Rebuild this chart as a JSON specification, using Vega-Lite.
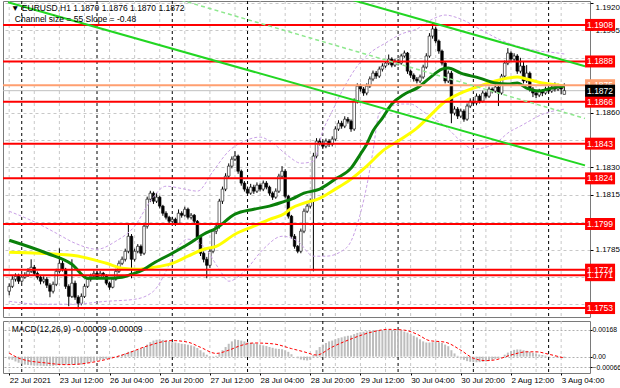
{
"$schema":"https://vega.github.io/schema/vega-lite/v6.json",
"padding":{"left":1,"top":0,"right":0,"bottom":0},
"background":"#ffffff",
"spacing":2,
"config":{"view":{"stroke":"#7a7a7a","strokeWidth":1},"axis":{"labelFont":"Liberation Sans","labelFontSize":8,"labelColor":"#000000","tickColor":"#000000","domain":false}},
"datasets":{
"vg":[{"i":0},{"i":8},{"i":16},{"i":24},{"i":32},{"i":40},{"i":48},{"i":56},{"i":64},{"i":72},{"i":80},{"i":88},{"i":96},{"i":104},{"i":112},{"i":120},{"i":128},{"i":136},{"i":144},{"i":152},{"i":160},{"i":168},{"i":176}],
"sep":[{"i":4},{"i":28},{"i":52},{"i":76},{"i":100},{"i":124},{"i":148},{"i":172}],
"lv":[{"p":1.1908,"t":"1.1908"},{"p":1.1888,"t":"1.1888"},{"p":1.1866,"t":"1.1866"},{"p":1.1843,"t":"1.1843"},{"p":1.1824,"t":"1.1824"},{"p":1.1799,"t":"1.1799"},{"p":1.1771,"t":"1.1771"},{"p":1.1774,"t":"1.1774"},{"p":1.1753,"t":"1.1753"}],
"orl":[{"p":1.1875,"t":"1.1875"}],
"bid":[{"p":1.1872,"t":"1.1872"}],
"ch":[{"i":-0.38,"p":1.19204,"k":"a"},{"i":183.6,"p":1.18311,"k":"a"},{"i":105.9,"p":1.19234,"k":"b"},{"i":183.6,"p":1.18854,"k":"b"}],
"chd":[{"i":52.6,"p":1.19227},{"i":183.6,"p":1.18568}],
"gma":[{"i":0,"p":1.17901},{"i":12,"p":1.17830},{"i":20,"p":1.17770},{"i":25,"p":1.17693},{"i":31,"p":1.17693},{"i":36,"p":1.17699},{"i":39,"p":1.17715},{"i":43,"p":1.17742},{"i":46,"p":1.17775},{"i":52,"p":1.17830},{"i":57,"p":1.17879},{"i":62,"p":1.17934},{"i":66,"p":1.17967},{"i":72,"p":1.18044},{"i":78,"p":1.18071},{"i":83,"p":1.18088},{"i":88,"p":1.18115},{"i":90,"p":1.18126},{"i":94,"p":1.18159},{"i":99,"p":1.18181},{"i":104,"p":1.18236},{"i":109,"p":1.18296},{"i":112,"p":1.18373},{"i":114,"p":1.18427},{"i":116,"p":1.18499},{"i":119,"p":1.18570},{"i":122,"p":1.18647},{"i":126,"p":1.18701},{"i":130,"p":1.18734},{"i":134,"p":1.18789},{"i":138,"p":1.18838},{"i":140,"p":1.18844},{"i":144,"p":1.18816},{"i":150,"p":1.18789},{"i":155,"p":1.18762},{"i":159,"p":1.18756},{"i":162,"p":1.18762},{"i":165,"p":1.18734},{"i":169,"p":1.18718},{"i":173,"p":1.18734},{"i":177,"p":1.18745}],
"yma":[{"i":0,"p":1.17836},{"i":20,"p":1.17819},{"i":31,"p":1.17775},{"i":36,"p":1.17748},{"i":41,"p":1.17742},{"i":46,"p":1.17753},{"i":52,"p":1.17775},{"i":57,"p":1.17814},{"i":62,"p":1.17852},{"i":66,"p":1.17868},{"i":72,"p":1.17934},{"i":78,"p":1.17978},{"i":83,"p":1.18016},{"i":88,"p":1.18049},{"i":90,"p":1.18077},{"i":94,"p":1.18104},{"i":99,"p":1.18131},{"i":104,"p":1.18181},{"i":109,"p":1.18236},{"i":114,"p":1.18307},{"i":119,"p":1.18389},{"i":125,"p":1.18455},{"i":130,"p":1.18515},{"i":135,"p":1.18597},{"i":138,"p":1.18647},{"i":144,"p":1.18707},{"i":150,"p":1.18745},{"i":155,"p":1.18773},{"i":159,"p":1.18789},{"i":162,"p":1.18795},{"i":165,"p":1.18784},{"i":170,"p":1.18762},{"i":175,"p":1.18751},{"i":177,"p":1.18745}],
"bbu":[{"i":0,"p":1.18060},{"i":9,"p":1.17994},{"i":15,"p":1.17940},{"i":21,"p":1.17885},{"i":28,"p":1.17852},{"i":34,"p":1.17896},{"i":40,"p":1.17978},{"i":45,"p":1.18115},{"i":50,"p":1.18197},{"i":56,"p":1.18181},{"i":60,"p":1.18170},{"i":65,"p":1.18279},{"i":70,"p":1.18389},{"i":75,"p":1.18444},{"i":80,"p":1.18466},{"i":84,"p":1.18433},{"i":89,"p":1.18362},{"i":93,"p":1.18323},{"i":97,"p":1.18334},{"i":100,"p":1.18499},{"i":103,"p":1.18608},{"i":107,"p":1.18745},{"i":111,"p":1.18855},{"i":115,"p":1.18926},{"i":120,"p":1.18981},{"i":125,"p":1.19030},{"i":130,"p":1.19058},{"i":135,"p":1.19112},{"i":139,"p":1.19134},{"i":144,"p":1.19112},{"i":150,"p":1.19058},{"i":156,"p":1.19003},{"i":162,"p":1.18964},{"i":169,"p":1.18937},{"i":175,"p":1.18926},{"i":177,"p":1.18921}],
"bbl":[{"i":0,"p":1.17567},{"i":10,"p":1.17551},{"i":20,"p":1.17551},{"i":31,"p":1.17567},{"i":40,"p":1.17578},{"i":46,"p":1.17622},{"i":50,"p":1.17731},{"i":53,"p":1.17841},{"i":57,"p":1.17907},{"i":62,"p":1.17868},{"i":67,"p":1.17742},{"i":70,"p":1.17677},{"i":75,"p":1.17731},{"i":81,"p":1.17852},{"i":87,"p":1.17923},{"i":92,"p":1.17896},{"i":97,"p":1.17814},{"i":101,"p":1.17814},{"i":106,"p":1.17841},{"i":109,"p":1.17896},{"i":111,"p":1.17989},{"i":114,"p":1.18197},{"i":116,"p":1.18389},{"i":118,"p":1.18597},{"i":122,"p":1.18636},{"i":125,"p":1.18647},{"i":128,"p":1.18647},{"i":131,"p":1.18619},{"i":134,"p":1.18581},{"i":139,"p":1.18526},{"i":144,"p":1.18444},{"i":148,"p":1.18400},{"i":153,"p":1.18416},{"i":156,"p":1.18444},{"i":159,"p":1.18488},{"i":163,"p":1.18526},{"i":171,"p":1.18597},{"i":177,"p":1.18619}],
"sig":[{"i":0,"s":0.00022},{"i":4,"s":-0.00016},{"i":12,"s":-0.0004},{"i":18,"s":-0.0005},{"i":23,"s":-0.00045},{"i":28,"s":-0.0003},{"i":37,"s":0.00016},{"i":44,"s":0.00066},{"i":52,"s":0.001},{"i":57,"s":0.0009},{"i":61,"s":0.00058},{"i":66,"s":0.0002},{"i":70,"s":0.0004},{"i":74,"s":0.0007},{"i":78,"s":0.00085},{"i":84,"s":0.0008},{"i":90,"s":0.0005},{"i":94,"s":0.0003},{"i":98,"s":0.0001},{"i":103,"s":0.0006},{"i":109,"s":0.0011},{"i":115,"s":0.0015},{"i":121,"s":0.0017},{"i":126,"s":0.00165},{"i":130,"s":0.0014},{"i":134,"s":0.001},{"i":139,"s":0.0009},{"i":144,"s":0.0004},{"i":148,"s":-0.0001},{"i":152,"s":-0.00025},{"i":155,"s":-0.0002},{"i":160,"s":0.0001},{"i":165,"s":0.0003},{"i":168,"s":0.0003},{"i":172,"s":0.00015},{"i":177,"s":-0.00009}],
"hdr":[{"i":0.6,"p":1.19172,"t":"▼ EURUSD,H1  1.1870 1.1876 1.1870 1.1872"},{"i":1.8,"p":1.19110,"t":"Channel size = 55 Slope = -0.48"}],
"mt":[{"i":0.8,"v":0.00175,"t":"MACD(12,26,9) -0.00009 -0.00009"}],
"tagx":[{"i":188.4}],
"bars":[
{"i":0,"o":1.17622,"h":1.17665,"l":1.17600,"c":1.17649,"m":-0.00015},
{"i":1,"o":1.17649,"h":1.17705,"l":1.17640,"c":1.17688,"m":-0.0002},
{"i":2,"o":1.17688,"h":1.17720,"l":1.17675,"c":1.17704,"m":-0.0003},
{"i":3,"o":1.17704,"h":1.17718,"l":1.17662,"c":1.17677,"m":-0.00038},
{"i":4,"o":1.17677,"h":1.17712,"l":1.17668,"c":1.17699,"m":-0.00045},
{"i":5,"o":1.17699,"h":1.17726,"l":1.17690,"c":1.17709,"m":-0.0005},
{"i":6,"o":1.17709,"h":1.17748,"l":1.17700,"c":1.17731,"m":-0.00052},
{"i":7,"o":1.17731,"h":1.17797,"l":1.17722,"c":1.17753,"m":-0.00054},
{"i":8,"o":1.17753,"h":1.17766,"l":1.17710,"c":1.17720,"m":-0.00055},
{"i":9,"o":1.17720,"h":1.17730,"l":1.17686,"c":1.17699,"m":-0.00056},
{"i":10,"o":1.17699,"h":1.17710,"l":1.17660,"c":1.17677,"m":-0.00057},
{"i":11,"o":1.17677,"h":1.17704,"l":1.17665,"c":1.17688,"m":-0.00058},
{"i":12,"o":1.17688,"h":1.17700,"l":1.17640,"c":1.17655,"m":-0.00058},
{"i":13,"o":1.17655,"h":1.17666,"l":1.17589,"c":1.17622,"m":-0.00058},
{"i":14,"o":1.17622,"h":1.17675,"l":1.17610,"c":1.17660,"m":-0.00057},
{"i":15,"o":1.17660,"h":1.17745,"l":1.17650,"c":1.17731,"m":-0.00055},
{"i":16,"o":1.17731,"h":1.17857,"l":1.17720,"c":1.17775,"m":-0.00052},
{"i":17,"o":1.17775,"h":1.17790,"l":1.17730,"c":1.17742,"m":-0.0005},
{"i":18,"o":1.17742,"h":1.17750,"l":1.17635,"c":1.17649,"m":-0.0005},
{"i":19,"o":1.17649,"h":1.17660,"l":1.17540,"c":1.17594,"m":-0.00052},
{"i":20,"o":1.17594,"h":1.17797,"l":1.17585,"c":1.17666,"m":-0.0005},
{"i":21,"o":1.17666,"h":1.17680,"l":1.17575,"c":1.17589,"m":-0.0005},
{"i":22,"o":1.17589,"h":1.17600,"l":1.17523,"c":1.17556,"m":-0.00052},
{"i":23,"o":1.17556,"h":1.17610,"l":1.17545,"c":1.17594,"m":-0.0005},
{"i":24,"o":1.17594,"h":1.17662,"l":1.17585,"c":1.17649,"m":-0.00046},
{"i":25,"o":1.17649,"h":1.17700,"l":1.17640,"c":1.17688,"m":-0.0004},
{"i":26,"o":1.17688,"h":1.17718,"l":1.17675,"c":1.17704,"m":-0.00035},
{"i":27,"o":1.17704,"h":1.17735,"l":1.17695,"c":1.17720,"m":-0.0003},
{"i":28,"o":1.17720,"h":1.17730,"l":1.17688,"c":1.17699,"m":-0.00026},
{"i":29,"o":1.17699,"h":1.17733,"l":1.17690,"c":1.17720,"m":-0.00022},
{"i":30,"o":1.17720,"h":1.17728,"l":1.17695,"c":1.17709,"m":-0.00018},
{"i":31,"o":1.17709,"h":1.17715,"l":1.17655,"c":1.17666,"m":-0.00016},
{"i":32,"o":1.17666,"h":1.17675,"l":1.17630,"c":1.17644,"m":-0.00012},
{"i":33,"o":1.17644,"h":1.17700,"l":1.17638,"c":1.17688,"m":-0.00006},
{"i":34,"o":1.17688,"h":1.17745,"l":1.17680,"c":1.17731,"m":0},
{"i":35,"o":1.17731,"h":1.17790,"l":1.17722,"c":1.17775,"m":0.00006},
{"i":36,"o":1.17775,"h":1.17812,"l":1.17765,"c":1.17797,"m":0.00012},
{"i":37,"o":1.17797,"h":1.17855,"l":1.17785,"c":1.17841,"m":0.0002},
{"i":38,"o":1.17841,"h":1.17989,"l":1.17830,"c":1.17923,"m":0.0003},
{"i":39,"o":1.17923,"h":1.17935,"l":1.17693,"c":1.17797,"m":0.00035},
{"i":40,"o":1.17797,"h":1.17855,"l":1.17785,"c":1.17841,"m":0.0004},
{"i":41,"o":1.17841,"h":1.17880,"l":1.17830,"c":1.17868,"m":0.00045},
{"i":42,"o":1.17868,"h":1.17878,"l":1.17815,"c":1.17830,"m":0.0005},
{"i":43,"o":1.17830,"h":1.17990,"l":1.17820,"c":1.17978,"m":0.0006},
{"i":44,"o":1.17978,"h":1.18140,"l":1.17965,"c":1.18126,"m":0.00075},
{"i":45,"o":1.18126,"h":1.18172,"l":1.18110,"c":1.18159,"m":0.0009},
{"i":46,"o":1.18159,"h":1.18168,"l":1.18100,"c":1.18115,"m":0.001},
{"i":47,"o":1.18115,"h":1.18160,"l":1.18105,"c":1.18137,"m":0.00105},
{"i":48,"o":1.18137,"h":1.18145,"l":1.18075,"c":1.18088,"m":0.00107},
{"i":49,"o":1.18088,"h":1.18095,"l":1.18035,"c":1.18049,"m":0.00104},
{"i":50,"o":1.18049,"h":1.18060,"l":1.18015,"c":1.18027,"m":0.001},
{"i":51,"o":1.18027,"h":1.18035,"l":1.17990,"c":1.18005,"m":0.00096},
{"i":52,"o":1.18005,"h":1.18030,"l":1.17995,"c":1.18016,"m":0.0009},
{"i":53,"o":1.18016,"h":1.18025,"l":1.17980,"c":1.17994,"m":0.00088},
{"i":54,"o":1.17994,"h":1.18070,"l":1.17985,"c":1.18049,"m":0.00084},
{"i":55,"o":1.18049,"h":1.18060,"l":1.18025,"c":1.18038,"m":0.0008},
{"i":56,"o":1.18038,"h":1.18085,"l":1.18030,"c":1.18071,"m":0.00078},
{"i":57,"o":1.18071,"h":1.18080,"l":1.18015,"c":1.18027,"m":0.00074},
{"i":58,"o":1.18027,"h":1.18050,"l":1.18015,"c":1.18038,"m":0.0007},
{"i":59,"o":1.18038,"h":1.18045,"l":1.17990,"c":1.18005,"m":0.00064},
{"i":60,"o":1.18005,"h":1.18012,"l":1.17905,"c":1.17918,"m":0.00054},
{"i":61,"o":1.17918,"h":1.17925,"l":1.17815,"c":1.17830,"m":0.0004},
{"i":62,"o":1.17830,"h":1.17840,"l":1.17780,"c":1.17797,"m":0.00026},
{"i":63,"o":1.17797,"h":1.17810,"l":1.17693,"c":1.17764,"m":0.00012},
{"i":64,"o":1.17764,"h":1.17855,"l":1.17750,"c":1.17841,"m":0.00004},
{"i":65,"o":1.17841,"h":1.17962,"l":1.17830,"c":1.17951,"m":0.00002},
{"i":66,"o":1.17951,"h":1.17995,"l":1.17935,"c":1.17978,"m":0.00005},
{"i":67,"o":1.17978,"h":1.18128,"l":1.17965,"c":1.18115,"m":0.0002},
{"i":68,"o":1.18115,"h":1.18195,"l":1.18100,"c":1.18181,"m":0.0004},
{"i":69,"o":1.18181,"h":1.18268,"l":1.18170,"c":1.18252,"m":0.0006},
{"i":70,"o":1.18252,"h":1.18322,"l":1.18240,"c":1.18307,"m":0.0008},
{"i":71,"o":1.18307,"h":1.18360,"l":1.18295,"c":1.18345,"m":0.00095},
{"i":72,"o":1.18345,"h":1.18389,"l":1.18335,"c":1.18362,"m":0.00107},
{"i":73,"o":1.18362,"h":1.18370,"l":1.18265,"c":1.18279,"m":0.00104},
{"i":74,"o":1.18279,"h":1.18288,"l":1.18200,"c":1.18214,"m":0.001},
{"i":75,"o":1.18214,"h":1.18225,"l":1.18168,"c":1.18181,"m":0.00095},
{"i":76,"o":1.18181,"h":1.18195,"l":1.18145,"c":1.18159,"m":0.0009},
{"i":77,"o":1.18159,"h":1.18210,"l":1.18150,"c":1.18192,"m":0.00086},
{"i":78,"o":1.18192,"h":1.18205,"l":1.18155,"c":1.18170,"m":0.00083},
{"i":79,"o":1.18170,"h":1.18218,"l":1.18160,"c":1.18203,"m":0.0008},
{"i":80,"o":1.18203,"h":1.18212,"l":1.18168,"c":1.18181,"m":0.00075},
{"i":81,"o":1.18181,"h":1.18228,"l":1.18170,"c":1.18214,"m":0.0007},
{"i":82,"o":1.18214,"h":1.18225,"l":1.18180,"c":1.18192,"m":0.00066},
{"i":83,"o":1.18192,"h":1.18200,"l":1.18145,"c":1.18159,"m":0.0006},
{"i":84,"o":1.18159,"h":1.18168,"l":1.18122,"c":1.18137,"m":0.00055},
{"i":85,"o":1.18137,"h":1.18185,"l":1.18128,"c":1.18170,"m":0.0005},
{"i":86,"o":1.18170,"h":1.18265,"l":1.18160,"c":1.18252,"m":0.00048},
{"i":87,"o":1.18252,"h":1.18307,"l":1.18240,"c":1.18279,"m":0.00046},
{"i":88,"o":1.18279,"h":1.18290,"l":1.18130,"c":1.18142,"m":0.0004},
{"i":89,"o":1.18142,"h":1.18150,"l":1.18020,"c":1.18033,"m":0.0003},
{"i":90,"o":1.18033,"h":1.18040,"l":1.17910,"c":1.17923,"m":0.00015},
{"i":91,"o":1.17923,"h":1.17935,"l":1.17855,"c":1.17868,"m":0},
{"i":92,"o":1.17868,"h":1.17875,"l":1.17830,"c":1.17841,"m":-0.0001},
{"i":93,"o":1.17841,"h":1.17965,"l":1.17830,"c":1.17951,"m":-0.00018},
{"i":94,"o":1.17951,"h":1.18075,"l":1.17940,"c":1.18060,"m":-0.00022},
{"i":95,"o":1.18060,"h":1.18100,"l":1.18050,"c":1.18088,"m":-0.00024},
{"i":96,"o":1.18088,"h":1.18130,"l":1.18075,"c":1.18115,"m":-0.0002},
{"i":97,"o":1.18115,"h":1.18380,"l":1.17731,"c":1.18362,"m":0.0001},
{"i":98,"o":1.18362,"h":1.18460,"l":1.18350,"c":1.18444,"m":0.0004},
{"i":99,"o":1.18444,"h":1.18458,"l":1.18420,"c":1.18433,"m":0.0006},
{"i":100,"o":1.18433,"h":1.18445,"l":1.18400,"c":1.18416,"m":0.00075},
{"i":101,"o":1.18416,"h":1.18458,"l":1.18405,"c":1.18444,"m":0.00085},
{"i":102,"o":1.18444,"h":1.18455,"l":1.18412,"c":1.18427,"m":0.00095},
{"i":103,"o":1.18427,"h":1.18470,"l":1.18415,"c":1.18455,"m":0.001},
{"i":104,"o":1.18455,"h":1.18525,"l":1.18445,"c":1.18510,"m":0.00108},
{"i":105,"o":1.18510,"h":1.18558,"l":1.18500,"c":1.18542,"m":0.00115},
{"i":106,"o":1.18542,"h":1.18555,"l":1.18512,"c":1.18526,"m":0.0012},
{"i":107,"o":1.18526,"h":1.18580,"l":1.18515,"c":1.18564,"m":0.00126},
{"i":108,"o":1.18564,"h":1.18576,"l":1.18540,"c":1.18553,"m":0.0013},
{"i":109,"o":1.18553,"h":1.18562,"l":1.18495,"c":1.18510,"m":0.00132},
{"i":110,"o":1.18510,"h":1.18678,"l":1.18500,"c":1.18663,"m":0.0014},
{"i":111,"o":1.18663,"h":1.18760,"l":1.18650,"c":1.18745,"m":0.00148},
{"i":112,"o":1.18745,"h":1.18758,"l":1.18715,"c":1.18729,"m":0.00152},
{"i":113,"o":1.18729,"h":1.18740,"l":1.18692,"c":1.18707,"m":0.00155},
{"i":114,"o":1.18707,"h":1.18760,"l":1.18695,"c":1.18745,"m":0.00158},
{"i":115,"o":1.18745,"h":1.18798,"l":1.18735,"c":1.18784,"m":0.0016},
{"i":116,"o":1.18784,"h":1.18830,"l":1.18772,"c":1.18816,"m":0.00162},
{"i":117,"o":1.18816,"h":1.18828,"l":1.18785,"c":1.18800,"m":0.00163},
{"i":118,"o":1.18800,"h":1.18852,"l":1.18790,"c":1.18838,"m":0.00165},
{"i":119,"o":1.18838,"h":1.18870,"l":1.18825,"c":1.18855,"m":0.00166},
{"i":120,"o":1.18855,"h":1.18885,"l":1.18845,"c":1.18871,"m":0.00168},
{"i":121,"o":1.18871,"h":1.18918,"l":1.18860,"c":1.18893,"m":0.00168},
{"i":122,"o":1.18893,"h":1.18903,"l":1.18848,"c":1.18860,"m":0.00166},
{"i":123,"o":1.18860,"h":1.18895,"l":1.18850,"c":1.18882,"m":0.00165},
{"i":124,"o":1.18882,"h":1.18893,"l":1.18858,"c":1.18871,"m":0.00163},
{"i":125,"o":1.18871,"h":1.18922,"l":1.18862,"c":1.18910,"m":0.0016},
{"i":126,"o":1.18910,"h":1.18940,"l":1.18900,"c":1.18926,"m":0.00156},
{"i":127,"o":1.18926,"h":1.18932,"l":1.18812,"c":1.18827,"m":0.0015},
{"i":128,"o":1.18827,"h":1.18835,"l":1.18790,"c":1.18805,"m":0.0014},
{"i":129,"o":1.18805,"h":1.18815,"l":1.18770,"c":1.18784,"m":0.0013},
{"i":130,"o":1.18784,"h":1.18795,"l":1.18760,"c":1.18773,"m":0.0012},
{"i":131,"o":1.18773,"h":1.18808,"l":1.18762,"c":1.18795,"m":0.00108},
{"i":132,"o":1.18795,"h":1.18862,"l":1.18785,"c":1.18849,"m":0.00095},
{"i":133,"o":1.18849,"h":1.18925,"l":1.18840,"c":1.18910,"m":0.00088},
{"i":134,"o":1.18910,"h":1.19035,"l":1.18900,"c":1.19019,"m":0.00088},
{"i":135,"o":1.19019,"h":1.19090,"l":1.19005,"c":1.19058,"m":0.0009},
{"i":136,"o":1.19058,"h":1.19070,"l":1.18980,"c":1.18992,"m":0.00092},
{"i":137,"o":1.18992,"h":1.19000,"l":1.18922,"c":1.18937,"m":0.0009},
{"i":138,"o":1.18937,"h":1.18945,"l":1.18858,"c":1.18871,"m":0.00085},
{"i":139,"o":1.18871,"h":1.18880,"l":1.18760,"c":1.18773,"m":0.00075},
{"i":140,"o":1.18773,"h":1.18830,"l":1.18762,"c":1.18816,"m":0.00065},
{"i":141,"o":1.18816,"h":1.18828,"l":1.18542,"c":1.18597,"m":0.0004},
{"i":142,"o":1.18597,"h":1.18635,"l":1.18585,"c":1.18619,"m":0.0002},
{"i":143,"o":1.18619,"h":1.18630,"l":1.18565,"c":1.18581,"m":0.00005},
{"i":144,"o":1.18581,"h":1.18622,"l":1.18570,"c":1.18608,"m":-0.0001},
{"i":145,"o":1.18608,"h":1.18618,"l":1.18550,"c":1.18564,"m":-0.0002},
{"i":146,"o":1.18564,"h":1.18650,"l":1.18555,"c":1.18636,"m":-0.00028},
{"i":147,"o":1.18636,"h":1.18678,"l":1.18625,"c":1.18663,"m":-0.00032},
{"i":148,"o":1.18663,"h":1.18675,"l":1.18640,"c":1.18652,"m":-0.00034},
{"i":149,"o":1.18652,"h":1.18705,"l":1.18640,"c":1.18690,"m":-0.00035},
{"i":150,"o":1.18690,"h":1.18700,"l":1.18650,"c":1.18663,"m":-0.00034},
{"i":151,"o":1.18663,"h":1.18720,"l":1.18655,"c":1.18707,"m":-0.00032},
{"i":152,"o":1.18707,"h":1.18715,"l":1.18678,"c":1.18690,"m":-0.0003},
{"i":153,"o":1.18690,"h":1.18742,"l":1.18680,"c":1.18729,"m":-0.00026},
{"i":154,"o":1.18729,"h":1.18738,"l":1.18705,"c":1.18718,"m":-0.0002},
{"i":155,"o":1.18718,"h":1.18755,"l":1.18708,"c":1.18740,"m":-0.00014},
{"i":156,"o":1.18740,"h":1.18750,"l":1.18636,"c":1.18707,"m":-0.0001},
{"i":157,"o":1.18707,"h":1.18812,"l":1.18698,"c":1.18800,"m":0},
{"i":158,"o":1.18800,"h":1.18885,"l":1.18790,"c":1.18871,"m":0.00012},
{"i":159,"o":1.18871,"h":1.18953,"l":1.18860,"c":1.18926,"m":0.00025},
{"i":160,"o":1.18926,"h":1.18935,"l":1.18880,"c":1.18893,"m":0.00035},
{"i":161,"o":1.18893,"h":1.18925,"l":1.18880,"c":1.18910,"m":0.00042},
{"i":162,"o":1.18910,"h":1.18920,"l":1.18812,"c":1.18827,"m":0.00045},
{"i":163,"o":1.18827,"h":1.18900,"l":1.18815,"c":1.18855,"m":0.00044},
{"i":164,"o":1.18855,"h":1.18880,"l":1.18760,"c":1.18773,"m":0.0004},
{"i":165,"o":1.18773,"h":1.18860,"l":1.18762,"c":1.18816,"m":0.00036},
{"i":166,"o":1.18816,"h":1.18825,"l":1.18715,"c":1.18729,"m":0.0003},
{"i":167,"o":1.18729,"h":1.18740,"l":1.18685,"c":1.18707,"m":0.00024},
{"i":168,"o":1.18707,"h":1.18718,"l":1.18680,"c":1.18696,"m":0.00018},
{"i":169,"o":1.18696,"h":1.18730,"l":1.18685,"c":1.18718,"m":0.00013},
{"i":170,"o":1.18718,"h":1.18728,"l":1.18690,"c":1.18707,"m":0.0001},
{"i":171,"o":1.18707,"h":1.18742,"l":1.18698,"c":1.18729,"m":0.00006},
{"i":172,"o":1.18729,"h":1.18738,"l":1.18705,"c":1.18718,"m":0.00003},
{"i":173,"o":1.18718,"h":1.18755,"l":1.18708,"c":1.18740,"m":0},
{"i":174,"o":1.18740,"h":1.18765,"l":1.18715,"c":1.18729,"m":-0.00003},
{"i":175,"o":1.18729,"h":1.18758,"l":1.18718,"c":1.18745,"m":-0.00005},
{"i":176,"o":1.18745,"h":1.18755,"l":1.18700,"c":1.18729,"m":-0.00008},
{"i":177,"o":1.18700,"h":1.18760,"l":1.18700,"c":1.18720,"m":-0.00009}
]},
"vconcat":[
{"width":587,"height":316,
"encoding":{
"x":{"field":"i","type":"quantitative","scale":{"domain":[-0.38,183.6],"nice":false,"zero":false},"axis":null},
"y":{"field":"p","type":"quantitative","scale":{"domain":[1.17481,1.19211],"nice":false,"zero":false},
"axis":{"orient":"right","values":[1.192,1.1905,1.189,1.1875,1.186,1.1845,1.183,1.1815,1.18,1.1785,1.177,1.1755],"labelExpr":"(abs(datum.value-1.189)<0.00001 || abs(datum.value-1.1875)<0.00001 || abs(datum.value-1.1845)<0.00001 || abs(datum.value-1.18)<0.00001 || abs(datum.value-1.177)<0.00001 || abs(datum.value-1.1755)<0.00001) ? '' : format(datum.value, '.4f')","title":null,"grid":true,"gridDash":[3,3],"gridColor":"#c8c8c8","tickSize":3,"labelPadding":2,"labelOverlap":false,"labelFlush":6}}},
"layer":[
{"data":{"name":"vg"},"mark":{"type":"rule","color":"#c8c8c8","strokeDash":[3,3],"strokeWidth":1},"encoding":{"y":null}},
{"data":{"name":"sep"},"mark":{"type":"rule","color":"#000000","strokeDash":[3,3],"strokeWidth":1},"encoding":{"y":null}},
{"data":{"name":"bid"},"mark":{"type":"rule","color":"#c0c0c0","strokeWidth":1},"encoding":{"x":null}},
{"data":{"name":"bars"},"mark":{"type":"rule","color":"#000000","strokeWidth":1},
"encoding":{"y":{"field":"l","type":"quantitative"},"y2":{"field":"h"}}},
{"data":{"name":"bars"},"mark":{"type":"bar","size":2.6,"stroke":"#000000","strokeWidth":0.6},
"encoding":{"y":{"field":"o","type":"quantitative"},"y2":{"field":"c"},
"fill":{"condition":{"test":"datum.c >= datum.o","value":"#ffffff"},"value":"#000000"}}},
{"data":{"name":"bbu"},"mark":{"type":"line","color":"#c9a0e6","strokeWidth":1,"strokeDash":[3,2],"interpolate":"monotone"}},
{"data":{"name":"bbl"},"mark":{"type":"line","color":"#c9a0e6","strokeWidth":1,"strokeDash":[3,2],"interpolate":"monotone"}},
{"data":{"name":"yma"},"mark":{"type":"line","color":"#ffff00","strokeWidth":3,"interpolate":"monotone"}},
{"data":{"name":"gma"},"mark":{"type":"line","color":"#0a800a","strokeWidth":3,"interpolate":"monotone"}},
{"data":{"name":"orl"},"mark":{"type":"rule","color":"#ff9f70","strokeWidth":2},"encoding":{"x":null}},
{"data":{"name":"lv"},"mark":{"type":"rule","color":"#ff0000","strokeWidth":2},"encoding":{"x":null}},
{"data":{"name":"ch"},"mark":{"type":"line","color":"#22d622","strokeWidth":2,"clip":true},"encoding":{"detail":{"field":"k","type":"nominal"}}},
{"data":{"name":"chd"},"mark":{"type":"line","color":"#8ee88e","strokeWidth":1.5,"strokeDash":[4,3],"clip":true}},
{"data":{"name":"lv"},"transform":[{"lookup":"p","from":{"data":{"name":"tagx"},"key":"i","fields":["i"]},"default":188.4}],
"mark":{"type":"tick","orient":"horizontal","color":"#ff0000","size":30,"thickness":12,"opacity":1},"encoding":{"x":{"datum":188.4,"type":"quantitative"}}},
{"data":{"name":"lv"},"transform":[{"lookup":"p","from":{"data":{"name":"tagx"},"key":"i","fields":["i"]},"default":188.4}],
"mark":{"type":"text","color":"#ffffff","font":"Liberation Sans","fontSize":8.5,"align":"center","baseline":"middle"},
"encoding":{"x":{"datum":188.4,"type":"quantitative"},"text":{"field":"t"}}},
{"data":{"name":"orl"},"transform":[{"lookup":"p","from":{"data":{"name":"tagx"},"key":"i","fields":["i"]},"default":188.4}],
"mark":{"type":"tick","orient":"horizontal","color":"#ff9f70","size":30,"thickness":12,"opacity":1},"encoding":{"x":{"datum":188.4,"type":"quantitative"}}},
{"data":{"name":"orl"},"transform":[{"lookup":"p","from":{"data":{"name":"tagx"},"key":"i","fields":["i"]},"default":188.4}],
"mark":{"type":"text","color":"#ffffff","font":"Liberation Sans","fontSize":8.5,"align":"center","baseline":"middle"},
"encoding":{"x":{"datum":188.4,"type":"quantitative"},"text":{"field":"t"}}},
{"data":{"name":"bid"},"transform":[{"lookup":"p","from":{"data":{"name":"tagx"},"key":"i","fields":["i"]},"default":188.4}],
"mark":{"type":"tick","orient":"horizontal","color":"#000000","size":30,"thickness":12,"opacity":1},"encoding":{"x":{"datum":188.4,"type":"quantitative"}}},
{"data":{"name":"bid"},"transform":[{"lookup":"p","from":{"data":{"name":"tagx"},"key":"i","fields":["i"]},"default":188.4}],
"mark":{"type":"text","color":"#ffffff","font":"Liberation Sans","fontSize":8.5,"align":"center","baseline":"middle"},
"encoding":{"x":{"datum":188.4,"type":"quantitative"},"text":{"field":"t"}}},
{"data":{"name":"hdr"},"mark":{"type":"text","color":"#000000","font":"Liberation Sans","fontSize":8.5,"align":"left","baseline":"middle"},
"encoding":{"text":{"field":"t"}}}
]},
{"width":587,"height":52,
"encoding":{
"x":{"field":"i","type":"quantitative","scale":{"domain":[-0.38,183.6],"nice":false,"zero":false},
"axis":{"orient":"bottom","values":[0,16,32,48,64,80,96,112,128,144,160,176],"labelExpr":"['22 Jul 2021','23 Jul 12:00','26 Jul 04:00','26 Jul 20:00','27 Jul 12:00','28 Jul 04:00','28 Jul 20:00','29 Jul 12:00','30 Jul 04:00','30 Jul 20:00','2 Aug 12:00','3 Aug 04:00'][round(datum.value/16)]","labelAlign":"left","tickSize":2,"labelPadding":1,"grid":false,"title":null,"labelOverlap":false,"labelBound":false,"labelFlush":false}},
"y":{"field":"m","type":"quantitative","scale":{"domain":[-0.00102,0.00222],"nice":false,"zero":false},
"axis":{"orient":"right","values":[0.00168,0,-0.00066],"labelExpr":"datum.value == 0 ? '0.00' : format(datum.value, '.5f')","title":null,"grid":true,"gridDash":[2,2],"gridColor":"#b0b0b0","tickSize":2,"labelPadding":0,"labelFontSize":6.8,"labelOverlap":false}}},
"layer":[
{"data":{"name":"vg"},"mark":{"type":"rule","color":"#c8c8c8","strokeDash":[3,3],"strokeWidth":1},"encoding":{"y":null}},
{"data":{"name":"sep"},"mark":{"type":"rule","color":"#000000","strokeDash":[3,3],"strokeWidth":1},"encoding":{"y":null}},
{"data":{"name":"bars"},"mark":{"type":"bar","size":2,"color":"#bdbdbd"},"encoding":{"y2":{"datum":0}}},
{"data":{"name":"sig"},"mark":{"type":"line","color":"#ff0000","strokeWidth":1,"strokeDash":[3,2],"interpolate":"monotone"},"encoding":{"y":{"field":"s","type":"quantitative"}}},
{"data":{"name":"mt"},"mark":{"type":"text","color":"#000000","font":"Liberation Sans","fontSize":8.5,"align":"left","baseline":"middle"},
"encoding":{"y":{"field":"v","type":"quantitative"},"text":{"field":"t"}}}
]}
]
}
